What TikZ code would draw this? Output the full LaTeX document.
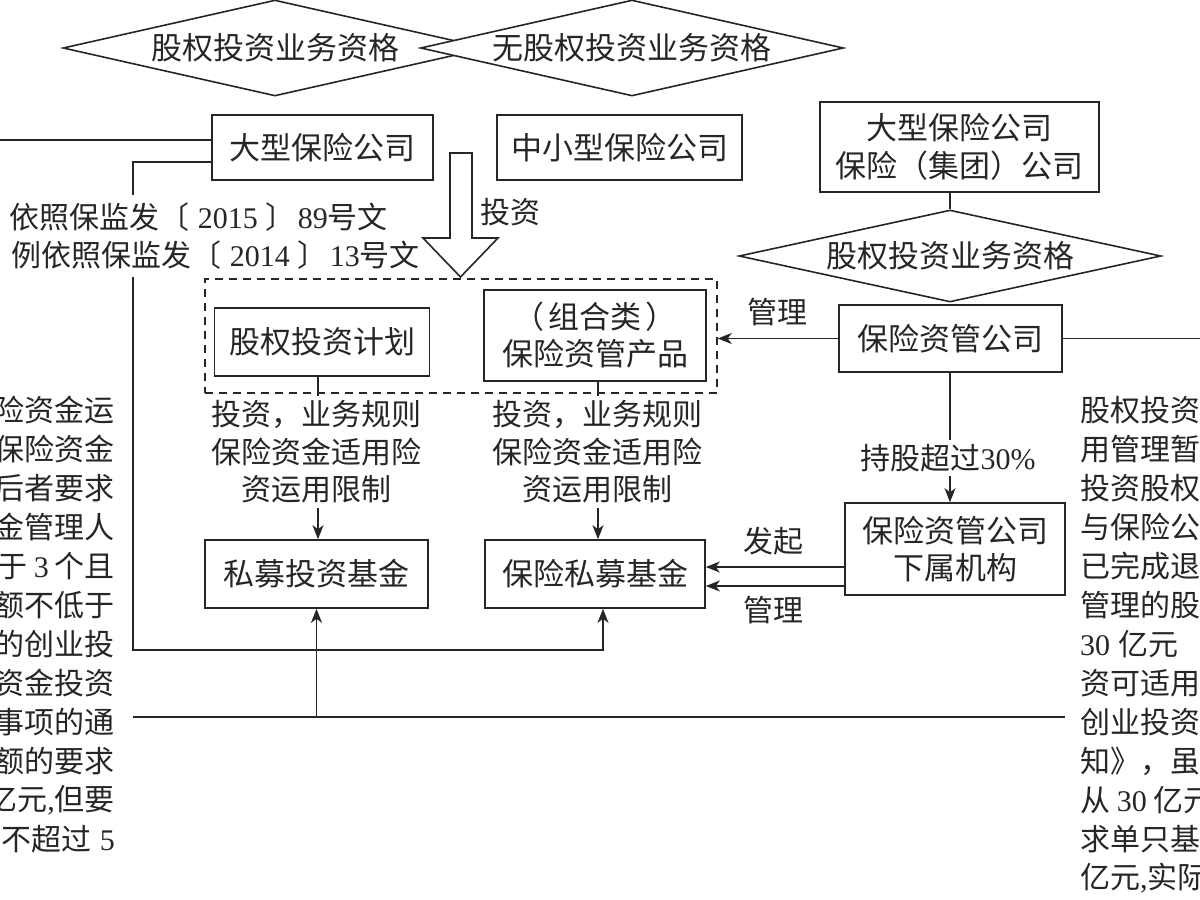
\documentclass[tikz,border=0pt]{standalone}
\usepackage{fontspec}
\setmainfont{Noto Sans CJK SC}
\newfontfamily\lat{Liberation Serif}
\usetikzlibrary{shapes.geometric,arrows.meta}
\begin{document}
\begin{tikzpicture}[x=1pt,y=-1pt,
  every node/.style={inner sep=0pt, align=center, text=black!85},
  ln/.style={line width=1.6pt, draw=black!85},
  box/.style={draw=black!85, line width=1.6pt, rectangle, font=\fontsize{31}{38}\selectfont},
  dia/.style={draw=black!85, diamond, aspect=4.4, line width=1.6pt, fill=white, font=\fontsize{31}{38}\selectfont},
  lbl/.style={font=\fontsize{30}{37.5}\selectfont},
  side/.style={font=\fontsize{30}{39}\selectfont},
  arr/.style={ln, -{Stealth[length=14pt,width=11pt,inset=4pt]}},
]
\useasboundingbox (0,0) rectangle (1200,900);
\clip (0,0) rectangle (1200,900);

% diamonds
\node[dia, minimum width=424pt, minimum height=96pt] (q1) at (275,48) {股权投资业务资格};
\node[dia, minimum width=423pt, minimum height=96pt] (q2) at (632,48) {无股权投资业务资格};

% boxes
\node[box, minimum width=221pt, minimum height=65pt] (big) at (322.5,147.5) {大型保险公司};
\node[box, minimum width=245pt, minimum height=65pt] (small) at (619.5,147.5) {中小型保险公司};
\node[box, minimum width=279pt, minimum height=90pt] (grp) at (959.5,147) {大型保险公司\\保险（集团）公司};
\node[dia, minimum width=422pt, minimum height=92pt] (q3) at (950,256) {股权投资业务资格};
\node[box, minimum width=223pt, minimum height=67pt] (amc) at (950.5,338.5) {保险资管公司};
\node[box, minimum width=215pt, minimum height=68pt] (plan) at (322,342) {股权投资计划};
\node[box, minimum width=222pt, minimum height=91pt, font=\fontsize{31}{37}\selectfont] (prod) at (595,335.5) {（\hspace{4pt}组合类\hspace{4pt}）\\保险资管产品};
\node[box, minimum width=223pt, minimum height=68pt] (pe) at (316.5,574) {私募投资基金};
\node[box, minimum width=220pt, minimum height=68pt] (ipf) at (595,574) {保险私募基金};
\node[box, minimum width=220pt, minimum height=92pt, font=\fontsize{31}{37}\selectfont] (sub) at (955,549) {保险资管公司\\下属机构};

% hollow arrow
\draw[line width=1.6pt, draw=black!85, fill=white] (450,153) -- (472,153) -- (472,238) -- (498,238) -- (460.5,277) -- (423,238) -- (450,238) -- cycle;
\node[lbl] (inv) at (510,212) {投资};

% connectors
\draw[ln] (big.west |- 0,140) -- (0,140);
\draw[arr] (big.west |- 0,162) -- (133,162) -- (133,650) -- (603,650) -- (ipf.south -| 603,0);
\draw[ln] (133,717) -- (1065,717);
\draw[arr] (pe.south |- 0,717) -- (pe.south);
\draw[ln] (grp.south -| q3.north) -- (q3.north);
\draw[ln] (amc.east) -- (1200,338.5);
\draw[arr] (amc.south -| 950,0) -- (sub.north -| 950,0);
\draw[arr] (sub.west |- 0,567) -- (ipf.east |- 0,567);
\draw[arr] (sub.west |- 0,586) -- (ipf.east |- 0,586);
\draw[arr] (plan.south -| 318,0) -- (pe.north -| 318,0);
\draw[arr] (prod.south -| 598,0) -- (ipf.north -| 598,0);

% labels
\node[lbl, fill=white, inner sep=4pt] (hold) at (948,458) {持股超过{\lat 30\%}};
\node[lbl] (l_fq) at (773,541) {发起};
\node[lbl] (l_gl2) at (773,610) {管理};
\node[lbl, fill=white, inner ysep=5pt] (t1) at (316,452) {投资，业务规则\\保险资金适用险\\资运用限制};
\node[lbl, fill=white, inner ysep=5pt] (t2) at (597,452) {投资，业务规则\\保险资金适用险\\资运用限制};

% side texts (top-left)
\node[side, fill=white, inner ysep=8pt, anchor=east] (r1) at (388,217) {依照保监发〔\hspace{8pt}{\lat 2015}\hspace{8pt}〕\hspace{2pt}{\lat 89}号文};
\node[side, fill=white, inner ysep=8pt, anchor=east] (r2) at (420,255) {例依照保监发〔\hspace{8pt}{\lat 2014}\hspace{8pt}〕\hspace{2pt}{\lat 13}号文};

% dashed group
\node[draw=black!85, line width=1.5pt, dash pattern=on 8pt off 6pt, minimum width=512pt, minimum height=114pt] (gbox) at (461,336) {};
\draw[arr] (amc.west) -- (gbox.east |- amc.west);
\node[lbl] (l_gl1) at (777,312) {管理};

% left column
\node[side, anchor=east] (a1) at (115,410) {险资金运};
\node[side, anchor=east] (a2) at (115,449) {保险资金};
\node[side, anchor=east] (a3) at (115,488) {后者要求};
\node[side, anchor=east] (a4) at (115,527) {金管理人};
\node[side, anchor=east] (a5) at (115,566) {于\hspace{6pt}{\lat 3}\hspace{6pt}个且};
\node[side, anchor=east] (a6) at (115,605) {额不低于};
\node[side, anchor=east] (a7) at (115,644) {的创业投};
\node[side, anchor=east] (a8) at (115,683) {资金投资};
\node[side, anchor=east] (a9) at (115,722) {事项的通};
\node[side, anchor=east] (a10) at (115,761) {额的要求};
\node[side, anchor=east] (a11) at (115,800) {亿元{\lat ,}但要};
\node[side, anchor=east] (a12) at (115,839) {不超过\hspace{8pt}{\lat 5}};

% right column
\node[side, anchor=west] (b1) at (1080,410) {股权投资};
\node[side, anchor=west] (b2) at (1080,449) {用管理暂};
\node[side, anchor=west] (b3) at (1080,488) {投资股权};
\node[side, anchor=west] (b4) at (1080,527) {与保险公};
\node[side, anchor=west] (b5) at (1080,566) {已完成退};
\node[side, anchor=west] (b6) at (1080,605) {管理的股};
\node[side, anchor=west] (b7) at (1080,644) {{\lat 30}\hspace{8pt}亿元};
\node[side, anchor=west] (b8) at (1080,683) {资可适用};
\node[side, anchor=west] (b9) at (1080,722) {创业投资};
\node[side, anchor=west] (b10) at (1080,761) {知》，虽};
\node[side, anchor=west] (b11) at (1080,800) {从 {\lat 30} 亿元};
\node[side, anchor=west] (b12) at (1080,839) {求单只基};
\node[side, anchor=west] (b13) at (1080,878) {亿元{\lat ,}实际};
\end{tikzpicture}
\end{document}
